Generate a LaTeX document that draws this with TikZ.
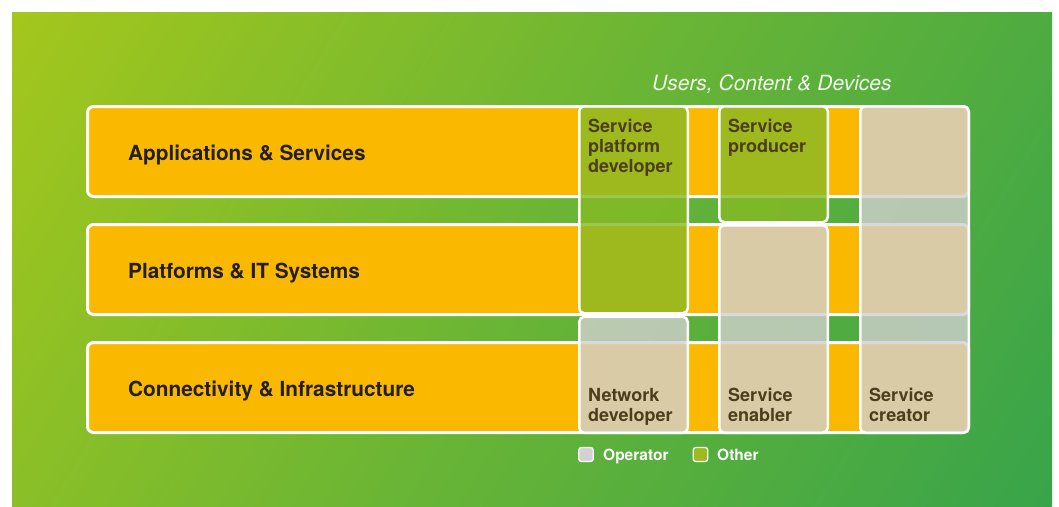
\documentclass[tikz,border=0pt]{standalone}
\usepackage{fontspec}
\setmainfont{TeX Gyre Heros}
\definecolor{bgA}{RGB}{164,199,28}
\definecolor{bgM}{RGB}{106,181,53}
\definecolor{bgB}{RGB}{56,164,74}
\definecolor{barorange}{RGB}{250,185,0}
\definecolor{opgray}{RGB}{209,208,207}
\definecolor{othergreen}{RGB}{134,186,37}
\definecolor{labelbrown}{RGB}{76,61,28}
\definecolor{rowtext}{RGB}{35,31,32}
\definecolor{keygray}{RGB}{210,210,209}
\definecolor{keygreen}{RGB}{157,186,30}
% diagonal backdrop: yellow-green to green
\pgfdeclarehorizontalshading{bgshade}{100bp}{color(0bp)=(bgA); color(25bp)=(bgA); color(50bp)=(bgM); color(75bp)=(bgB); color(100bp)=(bgB)}

\begin{document}
\begin{tikzpicture}[x=1pt,y=-1pt,
  rowbar/.style={draw=white, line width=3pt, fill=barorange, rounded corners=6pt,
    minimum width=881pt, minimum height=90pt, inner sep=0pt, outer sep=0pt},
  colbox/.style={draw=white, line width=2.5pt, rounded corners=5pt, fill opacity=0.8,
    minimum width=108.5pt, inner sep=0pt, outer sep=0pt},
  operator/.style={colbox, fill=opgray},
  other/.style={colbox, fill=othergreen},
  rowlabel/.style={anchor=base west, inner sep=0pt, text=rowtext,
    font=\bfseries\fontsize{20.8}{24}\selectfont},
  % multi-line labels: the base anchor sits on the last line
  collabel/.style={anchor=base west, inner sep=0pt, align=left, text=labelbrown,
    font=\bfseries\fontsize{18}{20}\selectfont},
  keybox/.style={draw=white, line width=1.2pt, rounded corners=2.5pt,
    minimum width=14.5pt, minimum height=14pt, inner sep=0pt},
  keylabel/.style={anchor=base west, inner sep=0pt, text=white,
    font=\bfseries\fontsize{15.5}{18}\selectfont}]

% page and backdrop
\path[use as bounding box, fill=white] (0,0) rectangle (1059,506);
\begin{scope}
  \clip (12,12) rectangle (1052,506);
  \shade[shading=bgshade, transform canvas={shift={(532,259)}, rotate=-31}]
    (-573,-700) rectangle (573,700);
\end{scope}

% the three layers
\node[rowbar] (r1) at (528,151.5) {};
\node[rowbar] (r2) at (528,269.5) {};
\node[rowbar] (r3) at (528,387.5) {};

% roles spanning the layers
\node[other, minimum height=207pt] (c1top) at (633.5,209.75) {};
\node[operator, minimum height=116pt] (c1bot) at (633.5,374.75) {};
\node[other, minimum height=116pt] (c2top) at (773.5,164.25) {};
\node[operator, minimum height=207.5pt] (c2bot) at (773.5,329) {};
\node[operator, minimum height=326.5pt] (c3) at (914.5,269.5) {};

% layer names
\node[rowlabel] (l1) at (128,160) {Applications \& Services};
\node[rowlabel] (l2) at (128,278) {Platforms \& IT Systems};
\node[rowlabel] (l3) at (128,396) {Connectivity \& Infrastructure};

% role names
\node[collabel] (t1) at (588,172) {Service\\platform\\developer};
\node[collabel] (t2) at (728,152) {Service\\producer};
\node[collabel] (t3) at (588,421) {Network\\developer};
\node[collabel] (t4) at (728,421) {Service\\enabler};
\node[collabel] (t5) at (869,421) {Service\\creator};

% heading
\node[anchor=base west, inner sep=0pt, text=white, text opacity=0.9,
  font=\itshape\fontsize{21}{24}\selectfont] (title) at (652,90) {Users, Content \& Devices};

% key
\node[keybox, fill=keygray] (k1) at (586,454.5) {};
\node[keylabel] (k1t) at (603,460) {Operator};
\node[keybox, fill=keygreen] (k2) at (700.5,454.5) {};
\node[keylabel] (k2t) at (717,460) {Other};
\end{tikzpicture}
\end{document}
